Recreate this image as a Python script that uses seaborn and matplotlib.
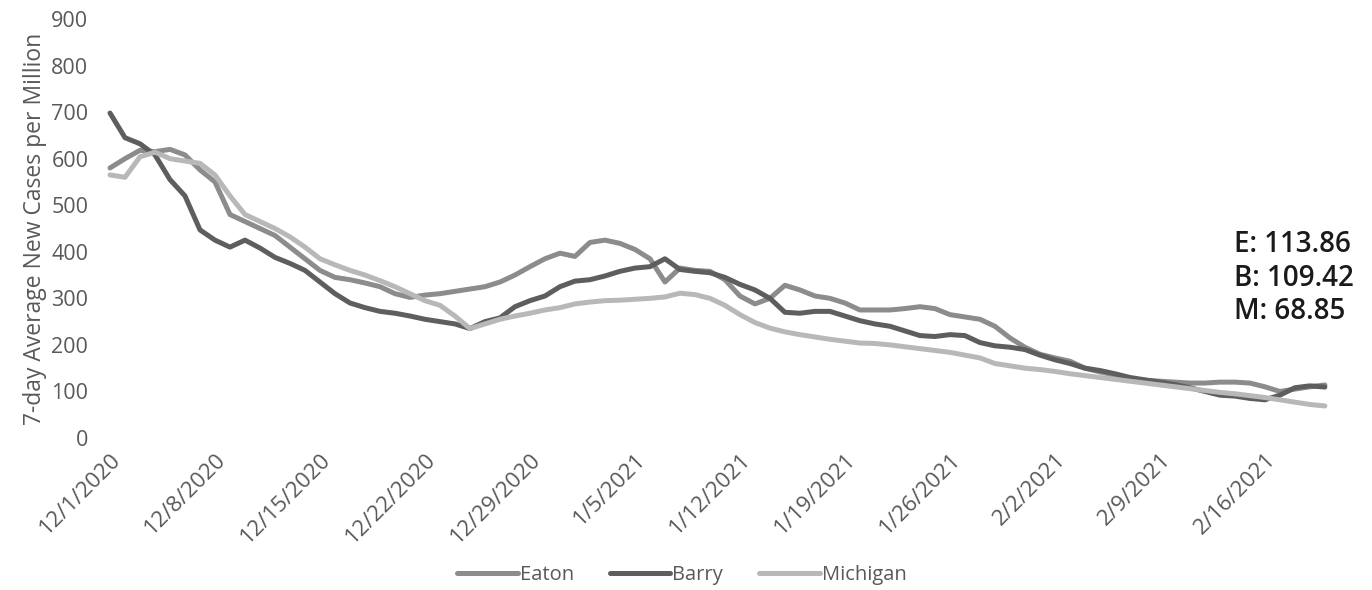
import pandas as pd
import numpy as np
import matplotlib
matplotlib.use("Agg")
import matplotlib.pyplot as plt
import seaborn as sns

# data: 7-day average new cases per million, 12/1/2020 - 2/20/2021
dates = pd.date_range("2020-12-01", "2021-02-20", freq="D")

eaton = [580, 600, 618, 615, 620, 608, 576, 550, 480, 465,
         450, 435, 410, 385, 360, 345, 340, 333, 325, 310,
         302, 307, 310, 315, 320, 325, 335, 350, 368, 385,
         397, 390, 420, 425, 418, 405, 385, 335, 365, 360,
         358, 340, 305, 288, 300, 328, 318, 305, 300, 290,
         275, 275, 275, 278, 282, 278, 265, 260, 255, 240,
         215, 195, 180, 172, 165, 150, 142, 135, 127, 124,
         122, 120, 118, 118, 120, 120, 118, 110, 100, 105,
         110, 113.86]

barry = [698, 645, 632, 608, 555, 520, 447, 425, 410, 425,
         408, 388, 375, 360, 335, 310, 290, 280, 272, 268,
         262, 255, 250, 245, 235, 250, 258, 282, 295, 305,
         325, 337, 340, 348, 358, 365, 368, 385, 362, 358,
         355, 345, 330, 318, 300, 270, 268, 272, 272, 262,
         252, 245, 240, 230, 220, 218, 222, 220, 205, 198,
         195, 190, 178, 168, 160, 150, 145, 138, 130, 125,
         120, 115, 108, 100, 92, 90, 85, 82, 92, 108,
         112, 109.42]

michigan = [565, 560, 604, 614, 600, 595, 590, 565, 520, 480,
            465, 450, 432, 410, 385, 372, 360, 350, 338, 325,
            310, 295, 285, 262, 235, 245, 255, 262, 268, 275,
            280, 288, 292, 295, 296, 298, 300, 303, 311, 308,
            300, 285, 265, 248, 236, 228, 222, 217, 212, 208,
            204, 203, 200, 196, 192, 188, 184, 178, 172, 160,
            155, 150, 147, 143, 138, 134, 130, 126, 122, 118,
            114, 110, 106, 102, 98, 95, 91, 87, 82, 77,
            72, 68.85]

series_names = ["Eaton", "Barry", "Michigan"]
colors = {"Eaton": "#8c8c8c", "Barry": "#5e5e5e", "Michigan": "#b8b8b8"}

df = pd.DataFrame({"date": dates, "Eaton": eaton, "Barry": barry, "Michigan": michigan})
long_df = df.melt(id_vars="date", var_name="County", value_name="cases")

sns.set_style("white")
plt.rcParams["font.family"] = ["Open Sans", "DejaVu Sans"]

fig = plt.figure(figsize=(13.72, 5.90), dpi=100)
ax = fig.add_axes([105 / 1372, 152 / 590, 1223 / 1372, 419 / 590])

sns.lineplot(data=long_df, x="date", y="cases", hue="County", hue_order=series_names,
             palette=colors, linewidth=3.6, ax=ax, legend=False)

ax.set_ylim(0, 900)
ax.set_yticks(range(0, 901, 100))
ax.set_xlim(dates[0] - pd.Timedelta(hours=8), dates[-1] + pd.Timedelta(hours=5))

tick_dates = dates[::7]
ax.set_xticks(tick_dates)
ax.set_xticklabels([f"{d.month}/{d.day}/{d.year}" for d in tick_dates],
                   rotation=45, ha="right", rotation_mode="anchor")

ax.tick_params(axis="y", colors="#595959", labelsize=15.5, length=0, pad=12)
ax.tick_params(axis="x", colors="#595959", labelsize=16, length=0, pad=8)
ax.set_xlabel("")
ax.set_ylabel("7-day Average New Cases per Million", color="#595959", fontsize=16.5, labelpad=3)
for s in ax.spines.values():
    s.set_visible(False)

# legend at bottom
handles = [plt.Line2D([0], [0], color=colors[n], lw=3.6) for n in series_names]
fig.legend(handles, series_names, loc="center", bbox_to_anchor=(0.497, 0.026), ncol=3,
           frameon=False, fontsize=14.5, handlelength=3.0, handletextpad=0.1,
           columnspacing=1.8, labelcolor="#595959")

# last values
fig.text(1234 / 1372, 1 - 278 / 590, "E: 113.86\nB: 109.42\nM: 68.85", ha="left", va="center",
         fontsize=20, color="#1a1a1a", fontweight="semibold", linespacing=1.2,
         family=["Open Sans", "DejaVu Sans"])

fig.savefig("out.png", dpi=100)
